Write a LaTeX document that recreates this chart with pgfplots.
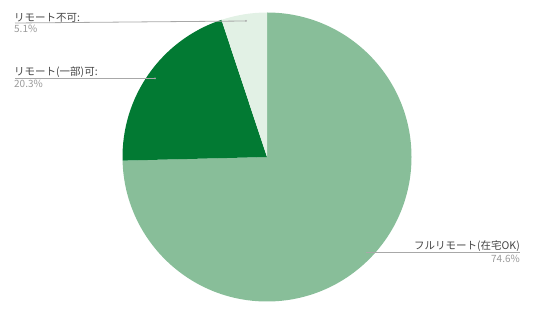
\documentclass[border=0pt]{standalone}
\usepackage{fontspec}
\setmainfont{Noto Sans CJK JP}
\usepackage{pgfplots}
\pgfplotsset{compat=1.18}
\definecolor{cFull}{HTML}{88BE99}
\definecolor{cPart}{HTML}{027A33}
\definecolor{cNone}{HTML}{E2F1E5}
\definecolor{cLab}{HTML}{444444}
\definecolor{cPct}{HTML}{9A9A9A}
\definecolor{cLine}{HTML}{A8A8A8}
\begin{document}
\begin{tikzpicture}
\begin{axis}[x=1pt,y=1pt,xmin=0,xmax=536,ymin=0,ymax=316,hide axis,clip=false]
\path (axis cs:0,0) rectangle (axis cs:536,316);
% slices: 74.6, 20.3, 5.1 (percent), clockwise from 12 o'clock
\fill[cFull] (axis cs:267,159) -- ++(90:144.5pt) arc[start angle=90, delta angle=-74.6*3.6, radius=144.5pt] -- cycle;
\fill[cPart] (axis cs:267,159) -- ++({90-74.6*3.6}:144.5pt) arc[start angle={90-74.6*3.6}, delta angle=-20.3*3.6, radius=144.5pt] -- cycle;
\fill[cNone] (axis cs:267,159) -- ++({90-(74.6+20.3)*3.6}:144.5pt) arc[start angle={90-(74.6+20.3)*3.6}, delta angle=-5.1*3.6, radius=144.5pt] -- cycle;
% leader lines
\draw[cLine, line width=0.8pt] (axis cs:15,293) -- (axis cs:246,295);
\fill[cLine] (axis cs:246,295) circle[radius=1pt];
\draw[cLine, line width=0.8pt] (axis cs:15,237.7) -- (axis cs:155,237.7);
\fill[cLine] (axis cs:155,237.7) circle[radius=1pt];
\draw[cLine, line width=0.8pt] (axis cs:366,63.5) -- (axis cs:520,63.5);
% labels
\node[anchor=base west, inner sep=0pt, text=cLab, font=\fontsize{10.5}{12}\selectfont] at (axis cs:14,294.5) {リモート不可:};
\node[anchor=base west, inner sep=0pt, text=cPct, font=\fontsize{10}{12}\selectfont] at (axis cs:14,283) {5.1\%};
\node[anchor=base west, inner sep=0pt, text=cLab, font=\fontsize{10.5}{12}\selectfont] at (axis cs:14,240) {リモート(一部)可:};
\node[anchor=base west, inner sep=0pt, text=cPct, font=\fontsize{10}{12}\selectfont] at (axis cs:14,228.5) {20.3\%};
\node[anchor=base east, inner sep=0pt, text=cLab, font=\fontsize{10.5}{12}\selectfont] at (axis cs:520,66) {フルリモート(在宅OK)};
\node[anchor=base east, inner sep=0pt, text=cPct, font=\fontsize{10}{12}\selectfont] at (axis cs:520,53) {74.6\%};
\end{axis}
\end{tikzpicture}
\end{document}
